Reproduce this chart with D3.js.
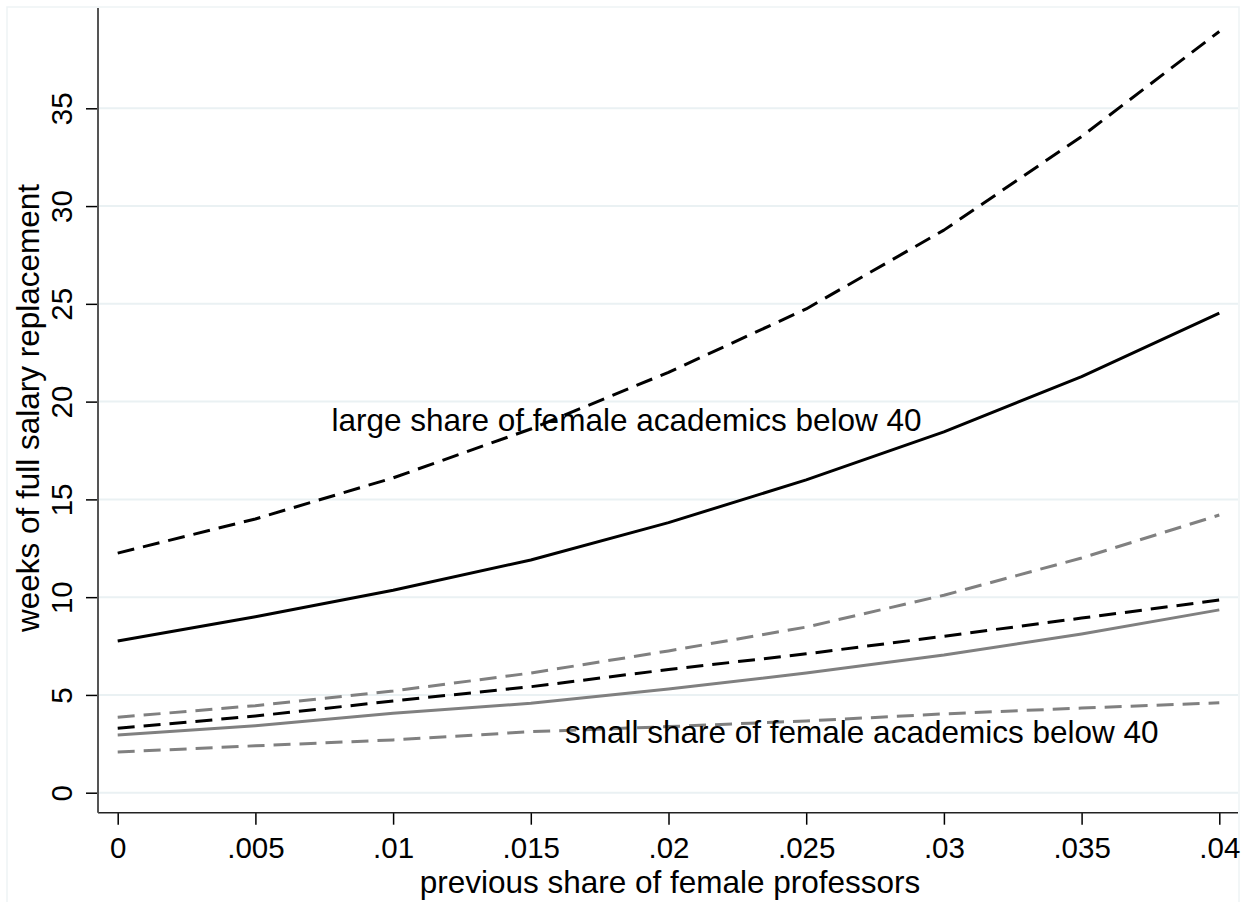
<!DOCTYPE html>
<html>
<head>
<meta charset="utf-8">
<script src="https://cdn.jsdelivr.net/npm/d3@7/dist/d3.min.js"></script>
<style>
  html, body { margin: 0; padding: 0; background: #ffffff; }
  svg { display: block; font-family: "Liberation Sans", Arial, Helvetica, sans-serif; }
</style>
</head>
<body>
<svg id="chart" width="1252" height="902"></svg>
<script>
// ---- data ----
const xValues = [0, 0.005, 0.01, 0.015, 0.02, 0.025, 0.03, 0.035, 0.04];
const largeMid = [7.76, 9.0, 10.35, 11.9, 13.81, 16.0, 18.45, 21.28, 24.52];
const largeHi  = [12.25, 14.0, 16.1, 18.6, 21.5, 24.74, 28.77, 33.56, 38.93];
const largeLo  = [3.29, 3.92, 4.69, 5.42, 6.3, 7.1, 8.0, 8.93, 9.85];
const smallMid = [2.95, 3.43, 4.06, 4.57, 5.3, 6.12, 7.04, 8.12, 9.35];
const smallHi  = [3.86, 4.45, 5.2, 6.12, 7.25, 8.47, 10.1, 12.0, 14.2];
const smallLo  = [2.08, 2.40, 2.7, 3.12, 3.38, 3.67, 4.03, 4.33, 4.6];
const xTicks = [0, 0.005, 0.01, 0.015, 0.02, 0.025, 0.03, 0.035, 0.04];
const xTickLabels = ["0", ".005", ".01", ".015", ".02", ".025", ".03", ".035", ".04"];
const yTicks = [0, 5, 10, 15, 20, 25, 30, 35];
const xTitle = "previous share of female professors";
const yTitle = "weeks of full salary replacement";
const labelLarge = "large share of female academics below 40";
const labelSmall = "small share of female academics below 40";

// ---- layout ----
const svg = d3.select("#chart");
const plotLeft = 98, plotRight = 1238, plotTop = 8, plotBottom = 812.7;
const x = d3.scaleLinear().domain([0, 0.04]).range([117.7, 1219.3]);
const y = d3.scaleLinear().domain([0, 35]).range([792.7, 108.3]);

const GRID = "#eaf1f3";
const GRAY = "#808080";
const FONT = "Liberation Sans, Arial, Helvetica, sans-serif";

// outer frame
svg.append("rect").attr("x", 7).attr("y", 7).attr("width", 1232).attr("height", 900)
  .attr("fill", "#ffffff").attr("stroke", "#eef3f5").attr("stroke-width", 1.5);

// gridlines
svg.append("g").selectAll("line").data(yTicks).join("line")
  .attr("x1", plotLeft).attr("x2", plotRight)
  .attr("y1", d => y(d)).attr("y2", d => y(d))
  .attr("stroke", GRID).attr("stroke-width", 2);

// lines
const line = vals => d3.line().x((d, i) => x(xValues[i])).y(d => y(d))(vals);
const series = [
  { vals: smallLo,  color: GRAY,   dash: "17,9" },
  { vals: smallHi,  color: GRAY,   dash: "17,9" },
  { vals: smallMid, color: GRAY,   dash: null },
  { vals: largeLo,  color: "#000", dash: "17,9" },
  { vals: largeHi,  color: "#000", dash: "17,9" },
  { vals: largeMid, color: "#000", dash: null }
];
svg.append("g").selectAll("path").data(series).join("path")
  .attr("d", d => line(d.vals))
  .attr("fill", "none")
  .attr("stroke", d => d.color)
  .attr("stroke-width", 3)
  .attr("stroke-dasharray", d => d.dash)
  .attr("stroke-linejoin", "round");

// x axis
const xAxis = d3.axisBottom(x).tickValues(xTicks).tickSize(12).tickPadding(0)
  .tickFormat((d, i) => xTickLabels[i]);
const gx = svg.append("g").attr("transform", `translate(0,${plotBottom})`).call(xAxis);
gx.select(".domain").remove();
gx.selectAll(".tick line").attr("stroke", "#000").attr("stroke-width", 1.5);
gx.selectAll(".tick text").attr("font-family", FONT).attr("font-size", 29.5)
  .attr("fill", "#000").attr("dy", null).attr("y", 858 - plotBottom);
svg.append("line").attr("x1", plotLeft).attr("x2", plotRight)
  .attr("y1", plotBottom).attr("y2", plotBottom)
  .attr("stroke", "#222").attr("stroke-width", 1.5);

// y axis
const yAxis = d3.axisLeft(y).tickValues(yTicks).tickSize(12).tickFormat(d3.format("d"));
const gy = svg.append("g").attr("transform", `translate(${plotLeft},0)`).call(yAxis);
gy.select(".domain").remove();
gy.selectAll(".tick line").attr("stroke", "#000").attr("stroke-width", 1.5);
gy.selectAll(".tick text")
  .attr("font-family", FONT).attr("font-size", 29.5).attr("fill", "#000")
  .attr("x", null).attr("dy", null)
  .attr("text-anchor", "middle")
  .attr("transform", `translate(${72 - plotLeft},0) rotate(-90)`);
svg.append("line").attr("x1", plotLeft).attr("x2", plotLeft)
  .attr("y1", plotTop).attr("y2", plotBottom)
  .attr("stroke", "#555").attr("stroke-width", 2);

// axis titles
svg.append("text").attr("x", 670).attr("y", 893)
  .attr("text-anchor", "middle").attr("font-size", 31.5).attr("fill", "#000")
  .text(xTitle);
svg.append("text").attr("transform", "translate(38.5,408) rotate(-90)")
  .attr("text-anchor", "middle").attr("font-size", 31.5).attr("fill", "#000")
  .text(yTitle);

// annotations
svg.append("text").attr("x", 331.5).attr("y", 430.7)
  .attr("font-size", 31.5).attr("fill", "#000").text(labelLarge);
svg.append("text").attr("x", 565).attr("y", 743.3)
  .attr("font-size", 31.5).attr("fill", "#000").text(labelSmall);
</script>
</body>
</html>
